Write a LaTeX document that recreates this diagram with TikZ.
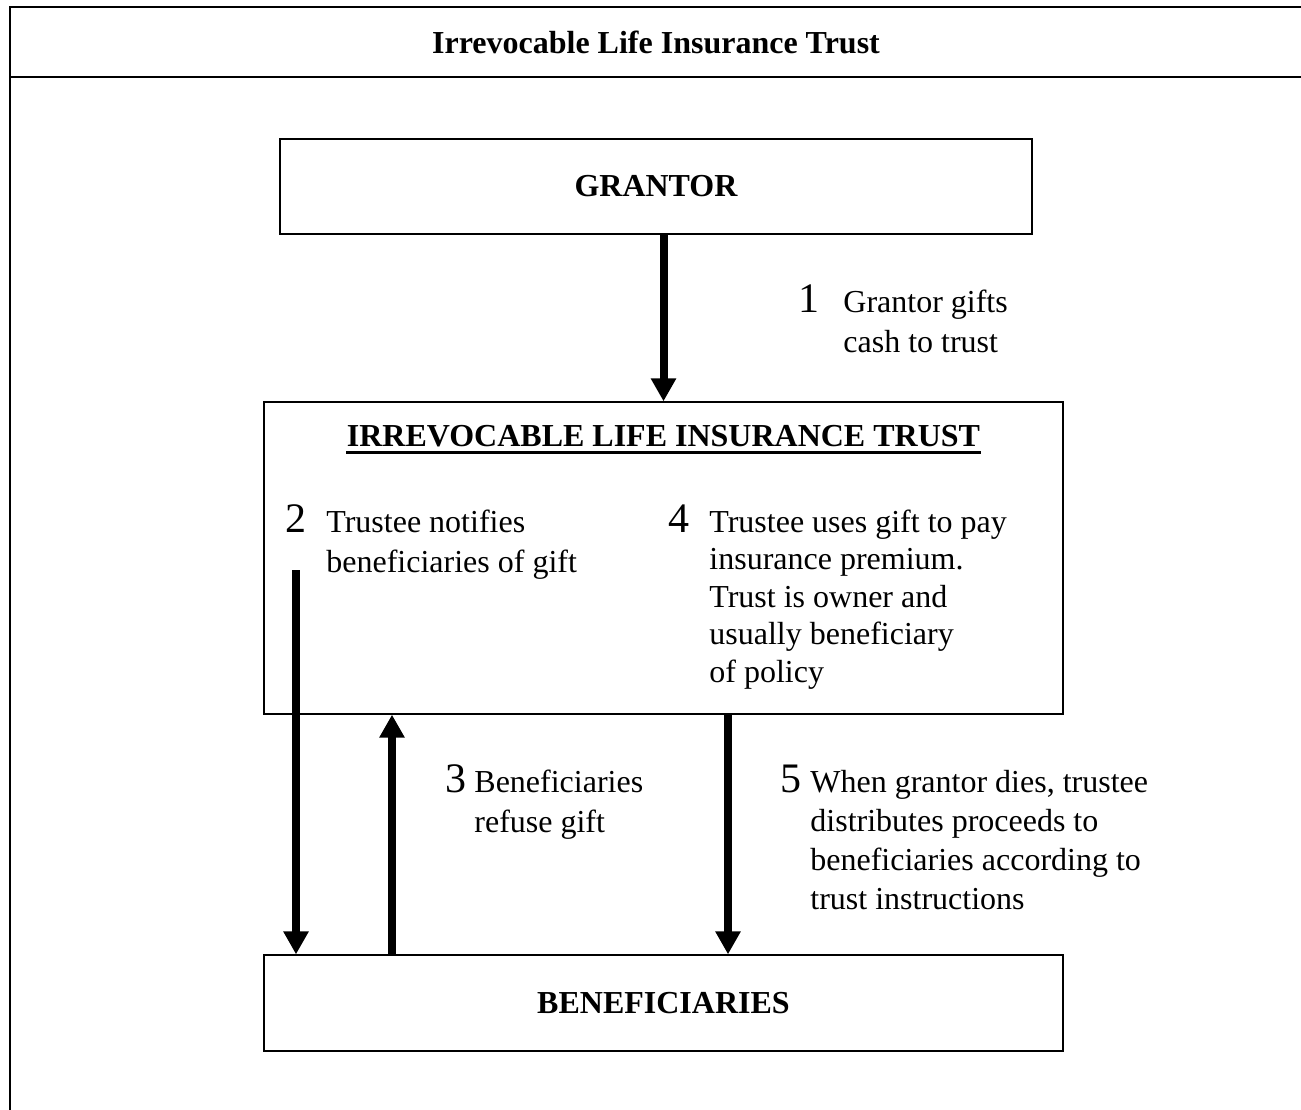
\documentclass[tikz,border=0pt]{standalone}
\usepackage{fontspec}
\setmainfont{Liberation Serif}
\usetikzlibrary{arrows.meta}

\begin{document}
\begin{tikzpicture}[x=0.5pt,y=-0.5pt,
  box/.style={draw,line width=0.65pt,inner sep=0pt,font=\fontsize{16}{20}\selectfont\bfseries},
  flow/.style={line width=4pt,-{Triangle[width=12pt,length=11.5pt]}},
  note/.style={anchor=base west,inner sep=0pt,font=\fontsize{16}{20}\selectfont},
  num/.style={anchor=base west,inner sep=0pt,font=\fontsize{21}{21}\selectfont}]
\useasboundingbox (0,0) rectangle (1301,1109);
% frame with header row
\draw[line width=0.85pt] (1310,7) -- (10,7) -- (10,1120);
\draw[line width=0.85pt] (10,77) -- (1310,77);
\node[anchor=base,inner sep=0pt,font=\fontsize{16}{20}\selectfont\bfseries] (head) at (656,53) {Irrevocable Life Insurance Trust};

\node[box,minimum width=376pt,minimum height=47.5pt] (grantor) at (656,186.5) {GRANTOR};
\node[box,minimum width=399.5pt,minimum height=156pt] (trust) at (663.5,558) {};
\node[box,minimum width=399.5pt,minimum height=48pt] (ben) at (663.5,1003) {BENEFICIARIES};
\node[anchor=base,inner sep=0pt,font=\fontsize{16}{20}\selectfont\bfseries] (ilit) at (663.5,446) {IRREVOCABLE LIFE INSURANCE TRUST};
\draw[line width=1.5pt] ([yshift=-3pt]ilit.base west) -- ([yshift=-3pt]ilit.base east);

% steps
\node[num] (n1) at (798,312) {1};
\node[note] (t1) at (843,312) {\vtop{\hbox{Grantor gifts}\hbox{cash to trust}}};
\node[num] (n2) at (285,532) {2};
\node[note] (t2) at (326,532) {\vtop{\hbox{Trustee notifies}\hbox{beneficiaries of gift}}};
\node[num] (n4) at (668,532) {4};
\node[note,font=\fontsize{16}{18.75}\selectfont] (t4) at (709,532) {\vtop{\hbox{Trustee uses gift to pay}\hbox{insurance premium.}\hbox{Trust is owner and}\hbox{usually beneficiary}\hbox{of policy}}};
\node[num] (n3) at (445,792) {3};
\node[note] (t3) at (474,792) {\vtop{\hbox{Beneficiaries}\hbox{refuse gift}}};
\node[num] (n5) at (780,792) {5};
\node[note,font=\fontsize{16}{19.5}\selectfont] (t5) at (810,792) {\vtop{\hbox{When grantor dies, trustee}\hbox{distributes proceeds to}\hbox{beneficiaries according to}\hbox{trust instructions}}};

\coordinate (c2) at (296,570);
\coordinate (c3) at (392,0);
\coordinate (c5) at (728,0);
\path[flow] (grantor.south -| trust.north) edge (trust.north)
          (c2) edge (c2 |- ben.north)
          (c3 |- ben.north) edge (c3 |- trust.south)
          (c5 |- trust.south) edge (c5 |- ben.north);
\end{tikzpicture}
\end{document}
